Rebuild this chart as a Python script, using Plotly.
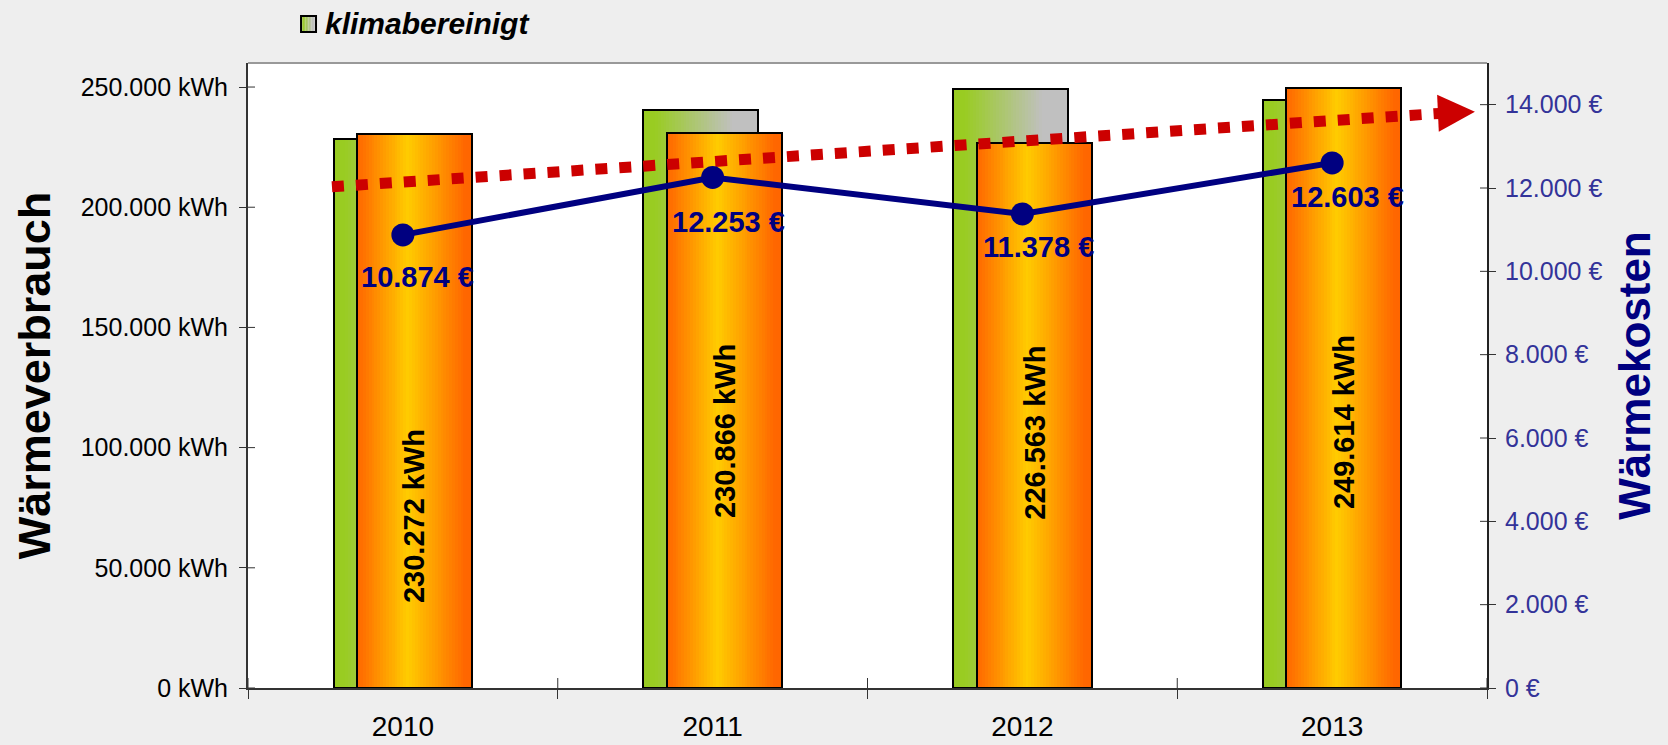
import plotly.graph_objects as go

# ---------------- data ----------------
years = ["2010", "2011", "2012", "2013"]
verbrauch = [230272, 230866, 226563, 249614]          # kWh (orange bars)
klimabereinigt = [228200, 240600, 249200, 244800]     # kWh (green/grey bars)
kosten = [10874, 12253, 11378, 12603]                 # EUR (line)
trend_x = [-0.229, 3.348]                             # decorative trend arrow (category units)
trend_y = [12030, 13790]                              # EUR
trend_tip_x = 3.461
trend_tip_y = 13832
left_ticks = [0, 50000, 100000, 150000, 200000, 250000]
right_ticks = [0, 2000, 4000, 6000, 8000, 10000, 12000, 14000]

# ---------------- style ----------------
FONT = "Arial, Liberation Sans, sans-serif"
NAVY = "#000080"
N = 40
BAR_W = 0.371
OFF_G = -0.038
OFF_O = 0.038
label_frac = [0.31, 0.464, 0.469, 0.443]          # vertical position of the kWh labels (fraction of bar)
cost_shift = [(15, -42), (16, -45), (16, -33), (15, -34)]  # pixel offsets of cost labels


def de(v):
    return f"{v:,}".replace(",", ".")


def hex2rgb(h):
    h = h.lstrip("#")
    return tuple(int(h[i:i + 2], 16) for i in (0, 2, 4))


def grad(stops, t):
    for (t0, c0), (t1, c1) in zip(stops, stops[1:]):
        if t0 <= t <= t1:
            f = 0 if t1 == t0 else (t - t0) / (t1 - t0)
            a, b = hex2rgb(c0), hex2rgb(c1)
            return "rgb(%d,%d,%d)" % tuple(round(a[i] + (b[i] - a[i]) * f) for i in range(3))
    return stops[-1][1]


ORANGE = [(0, "#FF6600"), (0.44, "#FFCC00"), (0.94, "#FF6600"), (1, "#FF6600")]
GREEN = [(0, "#99CC22"), (0.1, "#99CC22"), (0.78, "#C0C0C0"), (1, "#C0C0C0")]

xs = list(range(len(years)))
fig = go.Figure()


def gradient_bars(values, offset, stops):
    for k in range(N):
        left = -BAR_W / 2 + k * BAR_W / N
        right = BAR_W / 2
        fig.add_trace(go.Bar(
            x=[x + offset + (left + right) / 2 for x in xs], y=values,
            width=[right - left] * len(xs),
            marker=dict(color=grad(stops, (k + 0.5) / N), line=dict(width=0)),
            showlegend=False, hoverinfo="skip"))
    fig.add_trace(go.Bar(
        x=[x + offset for x in xs], y=values, width=[BAR_W] * len(xs),
        marker=dict(color="rgba(0,0,0,0)", line=dict(color="black", width=2)),
        showlegend=False))


gradient_bars(klimabereinigt, OFF_G, GREEN)
gradient_bars(verbrauch, OFF_O, ORANGE)

# trend arrow (dotted)
fig.add_trace(go.Scatter(
    x=trend_x, y=trend_y, yaxis="y2", mode="lines",
    line=dict(color="#CC0000", width=11, dash="12px,12px"),
    showlegend=False, hoverinfo="skip"))

# costs line
fig.add_trace(go.Scatter(
    x=xs, y=kosten, yaxis="y2", mode="lines+markers",
    line=dict(color=NAVY, width=6), marker=dict(color=NAVY, size=23),
    showlegend=False))

ann = []
# arrow head
ann.append(dict(x=trend_tip_x, y=trend_tip_y, xref="x", yref="y2",
                ax=trend_x[1] - 0.02, ay=trend_y[1] - 3, axref="x", ayref="y2",
                showarrow=True, arrowhead=2, arrowsize=3.7, arrowwidth=2,
                arrowcolor="#CC0000", text="", standoff=0))
# kWh labels
for i, v in enumerate(verbrauch):
    ann.append(dict(x=i + OFF_O, y=v * label_frac[i], xref="x", yref="y",
                    text=f"{de(v)} kWh", textangle=-90, showarrow=False,
                    font=dict(family=FONT, size=29, color="black", weight="bold")))
# cost labels
for i, v in enumerate(kosten):
    ann.append(dict(x=i, y=v, xref="x", yref="y2", text=f"{de(v)} €",
                    showarrow=False, xshift=cost_shift[i][0], yshift=cost_shift[i][1],
                    font=dict(family=FONT, size=29, color=NAVY, weight="bold")))
# legend text
ann.append(dict(x=0.0605, y=1.0634, xref="paper", yref="paper", xanchor="left",
                yanchor="middle", text="<b><i>klimabereinigt</i></b>", showarrow=False,
                font=dict(family=FONT, size=30, color="black")))

shapes = []
# legend key (gradient square)
lx0, lx1, ly0, ly1 = 0.0428, 0.0549, 1.0496, 1.0752
S = 10
for k in range(S):
    shapes.append(dict(type="rect", xref="paper", yref="paper",
                       x0=lx0 + (lx1 - lx0) * k / S, x1=lx0 + (lx1 - lx0) * (k + 1) / S,
                       y0=ly0, y1=ly1, line=dict(width=0),
                       fillcolor=grad(GREEN, (k + 0.5) / S)))
shapes.append(dict(type="rect", xref="paper", yref="paper", x0=lx0, x1=lx1, y0=ly0, y1=ly1,
                   line=dict(color="black", width=2), fillcolor="rgba(0,0,0,0)"))
# plot top border
shapes.append(dict(type="line", xref="paper", yref="paper", x0=0, x1=1, y0=1, y1=1,
                   line=dict(color="#999999", width=2)))
# inner parts of crossing ticks
for b in [-0.5, 0.5, 1.5, 2.5, 3.5]:
    shapes.append(dict(type="line", xref="x", yref="y", x0=b, x1=b, ysizemode="pixel",
                       yanchor=0, y0=0, y1=10, line=dict(color="#333333", width=1)))
for t in left_ticks:
    shapes.append(dict(type="line", xref="paper", yref="y", xsizemode="pixel", xanchor=0,
                       x0=0, x1=7, y0=t, y1=t, line=dict(color="#333333", width=1)))
for t in right_ticks:
    shapes.append(dict(type="line", xref="paper", yref="y2", xsizemode="pixel", xanchor=1,
                       x0=-7, x1=0, y0=t, y1=t, line=dict(color="#333333", width=1)))

fig.update_layout(
    width=1668, height=745,
    margin=dict(l=248, r=181, t=63, b=57, autoexpand=False),
    paper_bgcolor="#EEEEEE", plot_bgcolor="white",
    barmode="overlay", bargap=0,
    font=dict(family=FONT, color="black"),
    showlegend=False,
    xaxis=dict(range=[-0.5, 3.5], tickmode="array", tickvals=xs, ticktext=years,
               ticks="", ticklabelstandoff=12, tickfont=dict(size=28, color="black"),
               automargin=False,
               showgrid=False, zeroline=False, showline=True, linecolor="#333333",
               linewidth=2,
               minor=dict(tickmode="array", tickvals=[-0.5, 0.5, 1.5, 2.5, 3.5],
                          ticks="outside", ticklen=9, tickcolor="#333333", tickwidth=1,
                          showgrid=False)),
    yaxis=dict(range=[0, 260000], tickmode="array", tickvals=left_ticks,
               ticktext=[f"{de(t)} kWh" for t in left_ticks],
               ticks="outside", ticklen=7, tickcolor="#333333", ticklabelstandoff=6,
               tickfont=dict(size=25, color="black"), automargin=False,
               showgrid=False, zeroline=False, showline=True, linecolor="#333333",
               linewidth=2,
               title=dict(text="Wärmeverbrauch", standoff=16,
                          font=dict(size=45, color="black", weight="bold"))),
    yaxis2=dict(range=[0, 15000], overlaying="y", side="right", tickmode="array",
                tickvals=right_ticks, ticktext=[f"{de(t)} €" for t in right_ticks],
                ticks="outside", ticklen=7, tickcolor="#333333", ticklabelstandoff=4,
                tickfont=dict(size=25, color="#333399"), automargin=False,
                showgrid=False, zeroline=False, showline=True, linecolor="#222222",
                linewidth=2,
                title=dict(text="Wärmekosten", standoff=18,
                           font=dict(size=44, color=NAVY, weight="bold"))),
    annotations=ann, shapes=shapes,
)

fig.write_html("out.html", config={"displayModeBar": False},
               post_script="document.body.style.margin='0';document.body.style.overflow='hidden';")
